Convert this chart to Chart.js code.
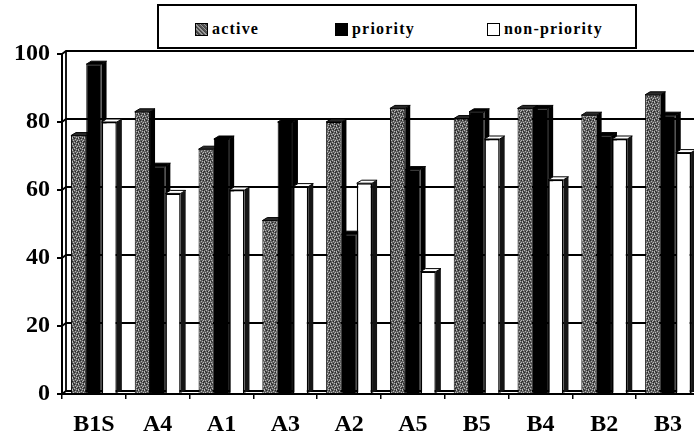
<!DOCTYPE html>
<html><head><meta charset="utf-8">
<script src="https://cdn.jsdelivr.net/npm/chart.js@4"></script>
<style>
html,body{margin:0;padding:0;background:#fff;overflow:hidden;width:694px;height:435px;}
#wrap{position:absolute;left:0;top:0;width:710px;height:435px;}
#legend{position:absolute;left:157px;top:4px;width:476px;height:41px;border:2px solid #000;background:#fff;font-family:"Liberation Serif","Times New Roman",serif;font-weight:bold;font-size:16px;letter-spacing:1.2px;color:#000;z-index:2;}
.item{position:absolute;top:14px;display:flex;align-items:center;white-space:nowrap;}
.sw{width:11px;height:11px;border:1px solid #000;margin-right:4px;box-sizing:content-box;}
</style></head>
<body>
<div id="wrap"><canvas id="c" width="710" height="435"></canvas></div>
<div id="legend">
  <div class="item" style="left:36px"><span class="sw" style="background:repeating-linear-gradient(45deg,#555 0 1px,#999 1px 2px,#444 2px 3px);"></span>active</div>
  <div class="item" style="left:176px"><span class="sw" style="background:#000"></span>priority</div>
  <div class="item" style="left:328px"><span class="sw" style="background:#fff"></span>non-priority</div>
</div>
<script>
const categories = ['B1S','A4','A1','A3','A2','A5','B5','B4','B2','B3'];
const active     = [76, 83, 72, 51, 80, 84, 81, 84, 82, 88];
const priority   = [97, 67, 75, 80, 47, 66, 83, 84, 76, 82];
const nonPriority= [80, 59, 60, 61, 62, 36, 75, 63, 75, 71];
const yTickValues = [0, 20, 40, 60, 80, 100];

// stipple pattern for "active"
function makePattern(){
  const p = document.createElement('canvas');
  p.width = 6; p.height = 6;
  const g = p.getContext('2d');
  g.fillStyle = '#5e5e5e'; g.fillRect(0,0,6,6);
  const light = [[0,0],[3,1],[1,2],[5,2],[2,4],[4,3],[0,5],[4,5]];
  const dark = [[2,0],[5,0],[0,3],[3,3],[1,5],[5,4]];
  g.fillStyle = '#b8b8b8'; light.forEach(([x,y])=>g.fillRect(x,y,1,1));
  g.fillStyle = '#262626'; dark.forEach(([x,y])=>g.fillRect(x,y,1,1));
  return g.createPattern(p,'repeat');
}
const activePattern = makePattern();

const DX = 5, DY = 3;
const faceStyles = [
  {side:'#000', top:'#2a2a2a', topStroke:'#000'},
  {side:'#000', top:'#000', topStroke:'#000'},
  {side:'#151515', top:'#fff', topStroke:'#000'}
];

const threeD = {
  id:'threeD',
  beforeDatasetsDraw(chart){
    const ctx = chart.ctx, a = chart.chartArea, ys = chart.scales.y;
    ctx.save();
    ctx.strokeStyle = '#000'; ctx.lineWidth = 1.8;
    ctx.beginPath();
    ctx.moveTo(a.left+4, ys.getPixelForValue(100)-DY);
    ctx.lineTo(a.left+4, ys.getPixelForValue(0)-DY);
    ctx.stroke();
    yTickValues.forEach(v=>{
      const py = ys.getPixelForValue(v);
      ctx.beginPath();
      ctx.moveTo(a.left, py);
      ctx.lineTo(a.left+4, py-DY);
      ctx.lineTo(a.right+10, py-DY);
      ctx.stroke();
    });
    chart.data.datasets.forEach((ds, di)=>{
      const meta = chart.getDatasetMeta(di);
      const st = faceStyles[di];
      meta.data.forEach(bar=>{
        const {x, y, base, width} = bar.getProps(['x','y','base','width'], true);
        const l = x - width/2, r = x + width/2;
        ctx.fillStyle = st.side;
        ctx.beginPath();
        ctx.moveTo(r, y); ctx.lineTo(r+DX, y-DY); ctx.lineTo(r+DX, base-DY); ctx.lineTo(r, base);
        ctx.closePath(); ctx.fill();
        ctx.fillStyle = st.top;
        ctx.beginPath();
        ctx.moveTo(l, y); ctx.lineTo(l+DX, y-DY); ctx.lineTo(r+DX, y-DY); ctx.lineTo(r, y);
        ctx.closePath(); ctx.fill();
        ctx.strokeStyle = st.topStroke; ctx.lineWidth = 1; ctx.stroke();
      });
    });
    ctx.restore();
  }
};

const tickFont = {family:'"Liberation Serif","Times New Roman",serif', weight:'bold', size:24};

new Chart(document.getElementById('c'), {
  type:'bar',
  data:{
    labels: categories,
    datasets:[
      {label:'active', data:active, backgroundColor:activePattern, borderColor:'#000', borderWidth:1},
      {label:'priority', data:priority, backgroundColor:'#000', borderColor:'#000', borderWidth:1},
      {label:'non-priority', data:nonPriority, backgroundColor:'#fff', borderColor:'#000', borderWidth:1.5}
    ]
  },
  options:{
    responsive:false,
    animation:false,
    events:[],
    layout:{padding:{top:54, right:10, left:0, bottom:0}},
    datasets:{bar:{categoryPercentage:0.72, barPercentage:1.0}},
    plugins:{legend:{display:false}, tooltip:{enabled:false}},
    scales:{
      x:{
        offset:true,
        grid:{offset:true, drawOnChartArea:false, tickLength:5, color:'#000', lineWidth:1.5},
        border:{display:true, color:'#000', width:2},
        ticks:{font:tickFont, color:'#000', padding:11, maxRotation:0, autoSkip:false},
        afterFit(s){ s.height = 41; }
      },
      y:{
        min:0, max:100,
        grid:{drawOnChartArea:false, tickLength:5, color:'#000', lineWidth:2},
        border:{display:true, color:'#000', width:2},
        ticks:{stepSize:20, font:tickFont, color:'#000', padding:7},
        afterFit(s){ s.width = 62; }
      }
    }
  },
  plugins:[threeD]
});
</script>
</body></html>
